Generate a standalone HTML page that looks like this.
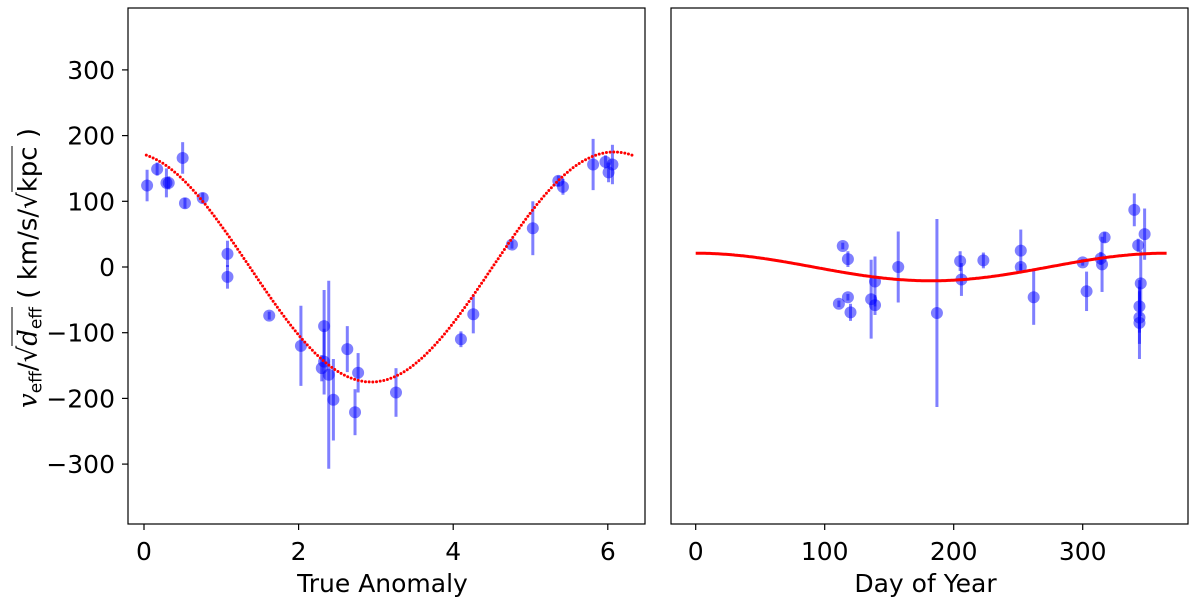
<!DOCTYPE html>
<html><head><meta charset="utf-8"><style>
html,body{margin:0;padding:0;background:#fff;}
body{width:1200px;height:599px;position:relative;overflow:hidden;font-family:"DejaVu Sans","Liberation Sans",sans-serif;}
#ylab{position:absolute;left:30px;top:268px;transform:translate(-50%,-50%) rotate(-90deg);white-space:nowrap;font-size:26px;color:#000;}
#ylab i{font-family:"DejaVu Serif","Liberation Serif",serif;}
#ylab sub{font-size:17px;vertical-align:-5px;}
.sq{border-top:1.5px solid #000;padding-top:1px;}
</style></head><body>
<svg id="chart" width="1200" height="599" style="position:absolute;left:0;top:0"></svg>
<div id="ylab"><i>v</i><sub>eff</sub>/√<span class="sq"><i>d</i><sub>eff</sub></span> ( km/s/√<span class="sq">kpc</span> )</div>
<script>
const leftX=[0.04,0.17,0.29,0.32,0.50,0.53,0.76,1.08,1.08,1.62,2.03,2.33,2.33,2.30,2.39,2.45,2.63,2.77,2.73,3.26,4.10,4.26,4.76,5.03,5.36,5.42,5.81,5.97,6.01,6.06];
const leftY=[124,149,128,128,166,97,105,20,-15,-74,-120,-90,-144,-154,-164,-202,-125,-161,-221,-191,-110,-72,34,59,131,122,156,160,144,156];
const leftErr=[24,10,22,10,24,8,8,20,18,6,61,55,50,20,143,62,35,30,35,37,12,29,6,41,8,12,39,10,15,30];
const rightX=[114,111,118,118,120,136,139,139,157,187,205,206,223,252,252,262,300,303,314,315,317,340,343,348,345,344,344,344];
const rightY=[32,-56,-46,12,-69,-49,-22,-58,0,-70,9,-19,10,25,0,-46,7,-37,13,4,45,87,33,50,-25,-60,-77,-85];
const rightErr=[5,5,5,12,13,60,38,15,54,143,15,25,12,32,5,42,5,30,10,42,8,25,10,39,50,40,40,55];
const yTicks=[-300,-200,-100,0,100,200,300];
const leftTicks=[0,2,4,6];
const rightTicks=[0,100,200,300];
const leftFit=[175,6.08];   // amplitude, phase
const rightFit=[21,365];    // amplitude, period

const NS='http://www.w3.org/2000/svg';
const svg=document.getElementById('chart');
function mk(tag,attrs,parent){const e=document.createElementNS(NS,tag);for(const k in attrs)e.setAttribute(k,attrs[k]);(parent||svg).appendChild(e);return e;}
const yS=v=>267-0.657*v;
const xL=v=>144+77.3*v;
const xR=v=>695.7+1.29*v;

function panel(name,x0,x1,xs,ticks,label,X,Y,E){
  const g=mk('g',{});
  
  
  for(let i=0;i<X.length;i++){
    const l=mk('line',{x1:xs(X[i]),x2:xs(X[i]),y1:yS(Y[i]-E[i]),y2:yS(Y[i]+E[i]),stroke:'rgba(0,0,255,0.5)','stroke-width':3},g);
    
    
    const c=mk('circle',{cx:xs(X[i]),cy:yS(Y[i]),r:6,fill:'rgba(0,0,255,0.5)'},g);
    
    
  }
  const fr=mk('rect',{x:x0,y:8,width:x1-x0,height:516,fill:'none',stroke:'#000','stroke-width':1.2},g);
  
  
  ticks.forEach(t=>{
    mk('line',{x1:xs(t),x2:xs(t),y1:524,y2:530,stroke:'#000','stroke-width':1.2},g);
    const tx=mk('text',{x:xs(t),y:560,'text-anchor':'middle','font-size':25},g);
    tx.textContent=String(t).replace('-','\u2212');
    
    
  });
  const xl=mk('text',{x:(x0+x1)/2-4,y:592,'text-anchor':'middle','font-size':25},g);
  xl.textContent=label;
  
  
  return g;
}
const gl=panel('left-panel',128,645,xL,leftTicks,'True Anomaly',leftX,leftY,leftErr);
yTicks.forEach(t=>{
  mk('line',{x1:122,x2:128,y1:yS(t),y2:yS(t),stroke:'#000','stroke-width':1.2},gl);
  const tx=mk('text',{x:115,y:yS(t)+9,'text-anchor':'end','font-size':25},gl);
  tx.textContent=String(t).replace('-','\u2212');
  
  
});
let d='';
for(let i=0;i<=300;i++){const x=0.03+(6.33-0.03)*i/300;const v=leftFit[0]*Math.cos(x-leftFit[1]);d+=(i?'L':'M')+xL(x).toFixed(1)+','+yS(v).toFixed(1);}
const fl=mk('path',{d:d,fill:'none',stroke:'#f00','stroke-width':3,'stroke-linecap':'round','stroke-dasharray':'0 3.7'},gl);



const gr=panel('right-panel',671,1188,xR,rightTicks,'Day of Year',rightX,rightY,rightErr);
d='';
for(let i=0;i<=300;i++){const x=365*i/300;const v=rightFit[0]*Math.cos(2*Math.PI*x/rightFit[1]);d+=(i?'L':'M')+xR(x).toFixed(1)+','+yS(v).toFixed(1);}
const fr2=mk('path',{d:d,fill:'none',stroke:'#f00','stroke-width':3},gr);


</script>
</body></html>
